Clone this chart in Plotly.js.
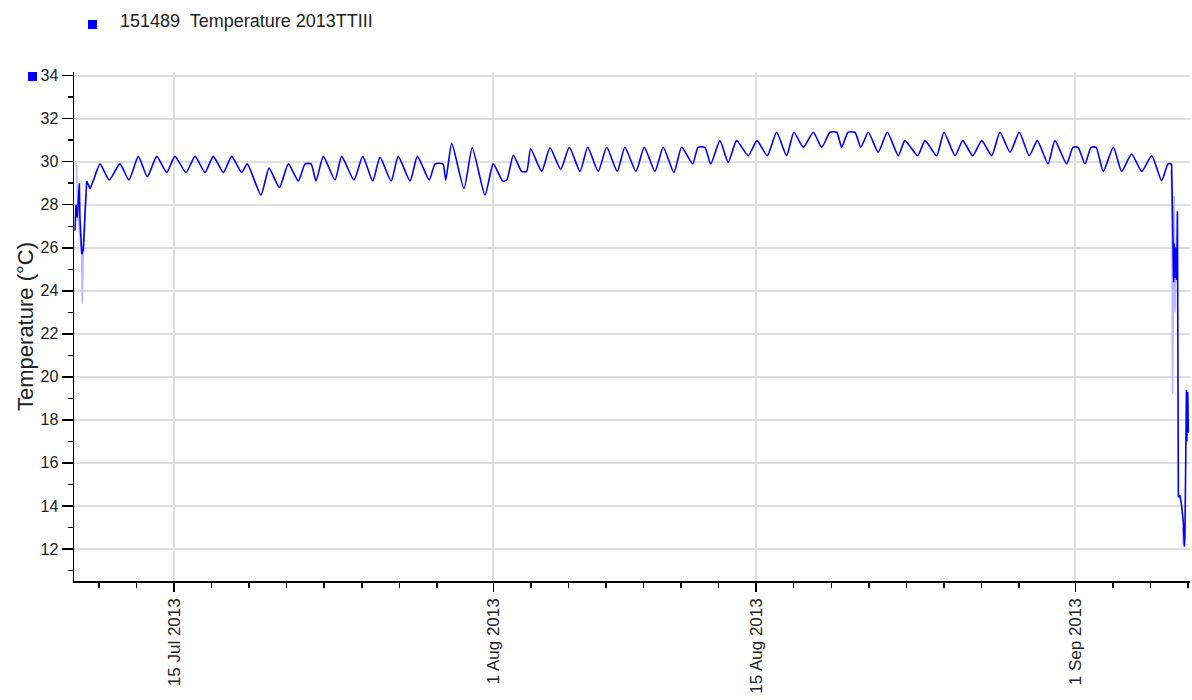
<!DOCTYPE html>
<html>
<head>
<meta charset="utf-8">
<script src="https://cdn.plot.ly/plotly-3.0.1.min.js"></script>
<style>
  html, body { margin: 0; padding: 0; background: #ffffff; }
  #chart { width: 1192px; height: 700px; }
</style>
</head>
<body>
<div id="chart"></div>
<script>
// ---- Data ----
// time in days since 2013-07-15 00:00, temperature in °C
var seriesName = "151489  Temperature 2013TTIII";
var dayOffset = [
  -5.27,-5.22,-5.15,-5.04,-5.01,-4.91,-4.83,-4.74,-4.65,-4.47,
  -4.30,-3.94,-3.45,-2.88,-2.40,-1.90,-1.42,-0.92,-0.39,0.05,
  0.64,1.12,1.65,2.09,2.63,3.07,3.60,3.90,4.63,5.06,
  5.61,6.09,6.62,6.98,7.30,7.56,
  7.95,8.57,8.93,9.58,10.05,10.58,10.97,11.56,11.94,12.57,
  12.96,13.59,13.90,14.32,14.47,14.79,15.44,15.88,16.56,17.00,
  17.50,17.72,18.07,18.51,18.78,18.99,19.58,
  20.02,20.59,21.05,21.62,22.03,22.59,23.04,23.60,24.01,24.60,
  25.04,25.61,26.05,26.62,27.03,27.62,27.90,28.27,28.58,29.07,
  29.51,29.96,30.58,31.04,31.59,32.09,32.62,33.01,
  33.51,34.04,34.49,34.93,35.29,35.55,35.89,36.26,36.57,36.97,
  37.50,37.98,38.57,38.92,39.60,39.99,40.61,41.00,41.59,42.00,
  42.53,43.01,43.54,43.98,44.52,45.01,45.54,45.97,46.54,
  46.91,47.53,47.87,48.14,48.51,48.83,49.10,49.48,50.02,50.46,
  50.99,51.53,52.06,52.59,52.93,53.12,53.16,53.23,53.27,53.31,
  53.35,53.39,53.43,53.46,53.48,53.56,53.64,53.74,53.80,53.83,
  53.87,53.91,53.93,53.98,54.01
];
var tempC = [
  26.8,28.0,27.4,29.0,27.4,25.7,25.95,27.7,29.1,28.75,
  29.1,29.9,29.15,29.9,29.15,30.25,29.3,30.25,29.5,30.25,
  29.5,30.25,29.5,30.25,29.5,30.25,29.5,29.9,28.45,29.7,
  28.8,29.9,29.1,29.9,29.9,29.1,
  30.25,29.15,30.25,29.15,30.25,29.1,30.2,29.1,30.25,29.1,
  30.25,29.15,29.9,29.9,29.15,30.85,28.75,30.65,28.45,29.9,
  29.1,29.15,30.3,29.55,29.55,30.6,29.55,
  30.65,29.65,30.67,29.55,30.67,29.55,30.67,29.55,30.67,29.55,
  30.67,29.55,30.67,29.5,30.67,29.9,30.67,30.67,29.9,30.98,
  29.97,30.98,30.28,30.98,30.28,31.37,30.28,31.37,
  30.67,31.37,30.67,31.37,31.37,30.67,31.37,31.37,30.67,31.37,
  30.44,31.37,30.28,30.98,30.28,30.98,30.28,31.37,30.28,30.98,
  30.28,30.98,30.28,31.37,30.44,31.37,30.28,30.98,29.9,
  30.98,29.9,30.67,30.67,29.9,30.67,30.67,29.55,30.67,29.55,
  30.36,29.55,30.28,29.12,29.9,29.9,26.96,24.4,26.2,24.6,
  26.0,24.5,27.7,20.9,14.4,14.5,14.1,13.3,12.1,12.6,
  15.9,19.4,17.0,19.3,17.4
];
// light (raw) readings visible where they differ from the dark line
var rawDayOffset = [-5.24,-5.20,-5.12,-4.92,-4.88,-4.84,-4.78,-4.70,null,
  53.10,53.14,53.17,53.20,53.26,53.30,53.34,53.38,null,53.71,53.73];
var rawTempC = [29.9,29.9,27.5,25.8,23.4,25.5,26.5,28.5,null,
  29.6,28.0,19.2,24.0,28.4,23.0,25.5,25.0,null,13.0,12.2];

var majorTickDates = ["2013-07-15","2013-08-01","2013-08-15","2013-09-01"];
var majorTickText  = ["15 Jul 2013","1 Aug 2013","15 Aug 2013","1 Sep 2013"];
var yTicks = [12,14,16,18,20,22,24,26,28,30,32,34];
var xRange = ["2013-07-09 16:12","2013-09-07 02:24"];
var yRange = [10.51, 34.17];

// ---- helpers ----
var base = Date.UTC(2013, 6, 15);
function toDate(d) {
  if (d === null) return null;
  var t = new Date(base + d * 86400000);
  return t.toISOString().replace("T"," ").slice(0,19);
}
var xs = dayOffset.map(toDate);
var rawXs = rawDayOffset.map(toDate);

// split the series: steady daily cycle (drawn smooth) vs. the abrupt start/end (drawn straight)
var calmStart = dayOffset.indexOf(-4.47), calmEnd = dayOffset.indexOf(53.12);
function slice(a, i0, i1) { return a.slice(i0, i1 + 1); }

// minor ticks every other day from the 1st of each month
var minorTicks = [];
[[2013,6],[2013,7],[2013,8]].forEach(function(m){
  for (var d = 1; d <= 29; d += 2) {
    var s = m[0] + "-" + String(m[1]+1).padStart(2,"0") + "-" + String(d).padStart(2,"0");
    minorTicks.push(s);
  }
});

var fontFam = "Liberation Sans, Arial, sans-serif";
var textColor = "#222222";
var lineStyle = {color: "#0000ff", width: 1.6};

var traces = [
  {
    x: rawXs, y: rawTempC, type: "scatter", mode: "lines",
    line: {color: "#b8b8ff", width: 1.6}, connectgaps: false,
    showlegend: false, hoverinfo: "skip"
  },
  {
    x: slice(xs, 0, calmStart), y: slice(tempC, 0, calmStart), type: "scatter", mode: "lines",
    name: seriesName, line: lineStyle, showlegend: false
  },
  {
    x: slice(xs, calmStart, calmEnd), y: slice(tempC, calmStart, calmEnd), type: "scatter", mode: "lines",
    name: seriesName, line: {color: "#0000ff", width: 1.6, shape: "spline", smoothing: 0.55}, showlegend: false
  },
  {
    x: slice(xs, calmEnd, xs.length - 1), y: slice(tempC, calmEnd, xs.length - 1), type: "scatter", mode: "lines",
    name: seriesName, line: lineStyle, showlegend: false
  }
];

var layout = {
  width: 1192, height: 700,
  margin: {l: 74, r: 2, t: 72, b: 119, pad: 0},
  paper_bgcolor: "#ffffff", plot_bgcolor: "#ffffff",
  font: {family: fontFam, color: textColor},
  showlegend: false,
  xaxis: {
    type: "date",
    range: xRange,
    tickmode: "array",
    tickvals: majorTickDates,
    ticktext: majorTickText,
    tickangle: -90,
    tickfont: {size: 17, family: fontFam, color: textColor},
    ticks: "outside", ticklen: 9, tickwidth: 1.5, tickcolor: "#000000",
    showline: true, linecolor: "#000000", linewidth: 1.5, mirror: false,
    showgrid: true, gridcolor: "#dedede", gridwidth: 2,
    zeroline: false,
    minor: {tickmode: "array", tickvals: minorTicks, ticks: "outside", ticklen: 5, tickwidth: 1.5, tickcolor: "#000000", showgrid: false},
    fixedrange: true
  },
  yaxis: {
    range: yRange,
    tickmode: "array",
    tickvals: yTicks,
    tickfont: {size: 16, family: fontFam, color: textColor},
    ticks: "outside", ticklen: 11, tickwidth: 1.5, tickcolor: "#000000",
    showline: true, linecolor: "#000000", linewidth: 1.5, mirror: false,
    showgrid: true, gridcolor: "#dedede", gridwidth: 2,
    zeroline: false,
    minor: {dtick: 1, tick0: 0, ticks: "outside", ticklen: 5, tickwidth: 1.5, tickcolor: "#000000", showgrid: false},
    title: {text: "Temperature (°C)", font: {size: 22, family: fontFam, color: textColor}, standoff: 1},
    automargin: false,
    fixedrange: true
  },
  shapes: [
    // legend swatch
    {type: "rect", xref: "paper", yref: "paper", xsizemode: "pixel", ysizemode: "pixel",
     xanchor: 0, yanchor: 1, x0: 14, x1: 23, y0: 43, y1: 52,
     fillcolor: "#0000ff", line: {width: 0}},
    // series marker next to axis
    {type: "rect", xref: "paper", yref: "paper", xsizemode: "pixel", ysizemode: "pixel",
     xanchor: 0, yanchor: 1, x0: -46, x1: -37, y0: -9, y1: 0,
     fillcolor: "#0000ff", line: {width: 0}}
  ],
  annotations: [
    {text: seriesName, xref: "paper", yref: "paper", x: 0, y: 1,
     xanchor: "left", yanchor: "middle", xshift: 44, yshift: 51,
     showarrow: false, font: {size: 18, family: fontFam, color: textColor}}
  ]
};

Plotly.newPlot("chart", traces, layout, {displayModeBar: false, staticPlot: true});
</script>
</body>
</html>
